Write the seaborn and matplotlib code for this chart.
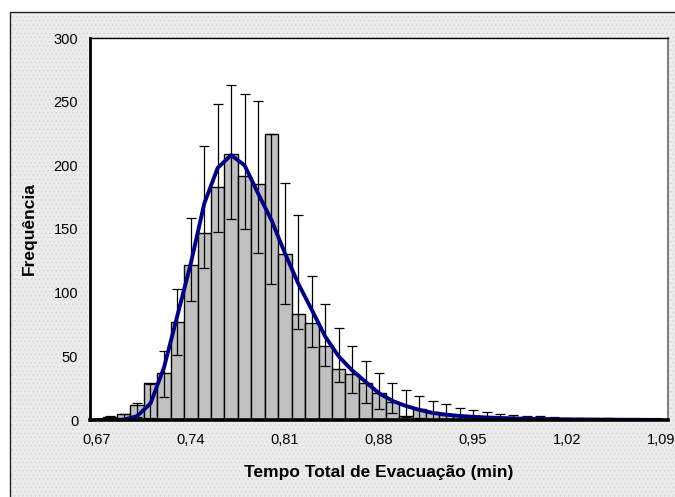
#%% Histograma do tempo total de evacuação com barras de erro e curva ajustada

import numpy as np
import pandas as pd
import matplotlib
matplotlib.use('Agg')
import matplotlib.pyplot as plt
from matplotlib.patches import Rectangle
import seaborn as sns

#%% Dados

classes = [0.67, 0.68, 0.69, 0.70, 0.71, 0.72, 0.73, 0.74, 0.75, 0.76,
           0.77, 0.78, 0.79, 0.80, 0.81, 0.82, 0.83, 0.84, 0.85, 0.86,
           0.87, 0.88, 0.89, 0.90, 0.91, 0.92, 0.93, 0.94, 0.95, 0.96,
           0.97, 0.98, 0.99, 1.00, 1.01, 1.02, 1.03, 1.04, 1.05, 1.06,
           1.07, 1.08, 1.09]

frequencia = [0, 2, 5, 12, 29, 37, 77, 122, 147, 183,
              209, 192, 185, 225, 130, 83, 76, 58, 40, 36,
              29, 21, 14, 3, 9, 6, 4, 3, 2, 2,
              1, 1, 1, 1, 0.5, 0, 0, 0, 0, 0,
              0, 0, 0]

# limites inferior e superior das barras de erro
erro_inf = [0, 1, 1, 2, 1.3, 17.8, 51, 93.6, 119.7, 148,
            157.8, 150.2, 131.5, 106.7, 91, 71.5, 57.6, 42.5, 30, 21,
            13.6, 8.4, 5.2, 2.6, 1.3, 0, 0, 0, 0, 0,
            0, 0, 0, 0, 0, 0, 0, 0, 0, 0,
            0, 0, 0]

erro_sup = [0, 3, 5, 13, 28.3, 54.5, 102.7, 158.6, 214.9, 248.4,
            263.4, 256, 250.3, 225, 186, 161, 112.7, 91, 72.6, 58.4,
            46.6, 36.7, 29.3, 23.6, 19.1, 15.2, 12.3, 9.7, 7.9, 6.5,
            4.7, 3.9, 2.9, 2.9, 2.1, 1.8, 1.3, 1.3, 1.3, 0,
            0, 0, 0]

# curva da distribuição ajustada
ajuste = [0, 0, 0.3, 3, 13, 41, 82, 123, 170, 198,
          208, 200, 178, 157, 131, 107, 86.5, 65.5, 50, 39,
          30, 21, 15, 11, 8, 5.5, 4.2, 3.2, 2.5, 2,
          1.6, 1.3, 1, 0.8, 0.6, 0.5, 0.4, 0.3, 0.3, 0.2,
          0.2, 0.1, 0.1]

rotulos = [f"{c:.2f}".replace('.', ',') for c in classes]

df = pd.DataFrame({'classe': rotulos, 'freq': frequencia,
                   'inf': erro_inf, 'sup': erro_sup, 'ajuste': ajuste})
df['pos'] = np.arange(len(df))

#%% Gráfico

sns.set_style('white')
plt.rcParams['font.family'] = ['Liberation Sans', 'DejaVu Sans']
plt.rcParams['hatch.linewidth'] = 0.5
plt.rcParams['text.color'] = 'black'
plt.rcParams['axes.labelcolor'] = 'black'
plt.rcParams['xtick.color'] = 'black'
plt.rcParams['ytick.color'] = 'black'

fig = plt.figure(figsize=(6.75, 4.97), dpi=100, facecolor='white')

# moldura com fundo pontilhado (estilo Excel)
x0, y1 = 10/675, 1 - 12/497
fundo = Rectangle((x0, -0.1), 1.2, y1 + 0.1, transform=fig.transFigure,
                  facecolor='#ececec', edgecolor='#d2d2d2', linewidth=0,
                  hatch='....', zorder=-2)
moldura = Rectangle((x0, -0.1), 1.2, y1 + 0.1, transform=fig.transFigure,
                    fill=False, edgecolor='#202020', linewidth=1.0, zorder=-1)
fig.patches.extend([fundo, moldura])

ax = fig.add_axes([90/675, 77/497, 578/675, 382/497])
ax.set_facecolor('white')

sns.barplot(data=df, x='classe', y='freq', color='#c0c0c0', saturation=1,
            width=1, edgecolor='black', linewidth=1.0, ax=ax, zorder=2)

centro = (df['inf'] + df['sup']) / 2
meia = (df['sup'] - df['inf']) / 2
ax.errorbar(df['pos'], centro, yerr=meia, fmt='none', ecolor='black',
            elinewidth=0.9, capsize=3.5, capthick=0.9, zorder=3)

sns.lineplot(data=df, x='pos', y='ajuste', color='#000080', linewidth=2.8,
             ax=ax, zorder=4)

ax.set_xlim(-0.5, len(df) - 0.5)
ax.set_ylim(0, 300)
ax.set_yticks(range(0, 301, 50))
ax.set_xticks(range(0, len(df), 7))
ax.set_xticklabels([rotulos[i] for i in range(0, len(df), 7)])

ax.tick_params(axis='y', direction='inout', length=9, width=1.6, labelsize=10.5, pad=4)
ax.tick_params(axis='x', length=0, labelsize=10.5, pad=9)

ax.spines['left'].set_linewidth(2)
ax.spines['bottom'].set_linewidth(2.6)
ax.spines['top'].set_linewidth(1)
ax.spines['top'].set_color('black')
ax.spines['right'].set_linewidth(1.5)
ax.spines['right'].set_color('#808080')
for s in ['left', 'bottom']:
    ax.spines[s].set_color('black')
    ax.spines[s].set_zorder(5)

ax.set_xlabel('Tempo Total de Evacuação (min)', fontsize=12.5, fontweight='bold', labelpad=13)
ax.set_ylabel('Frequência', fontsize=12.5, fontweight='bold', labelpad=12)

fig.savefig('out.png', dpi=100, facecolor=fig.get_facecolor())
